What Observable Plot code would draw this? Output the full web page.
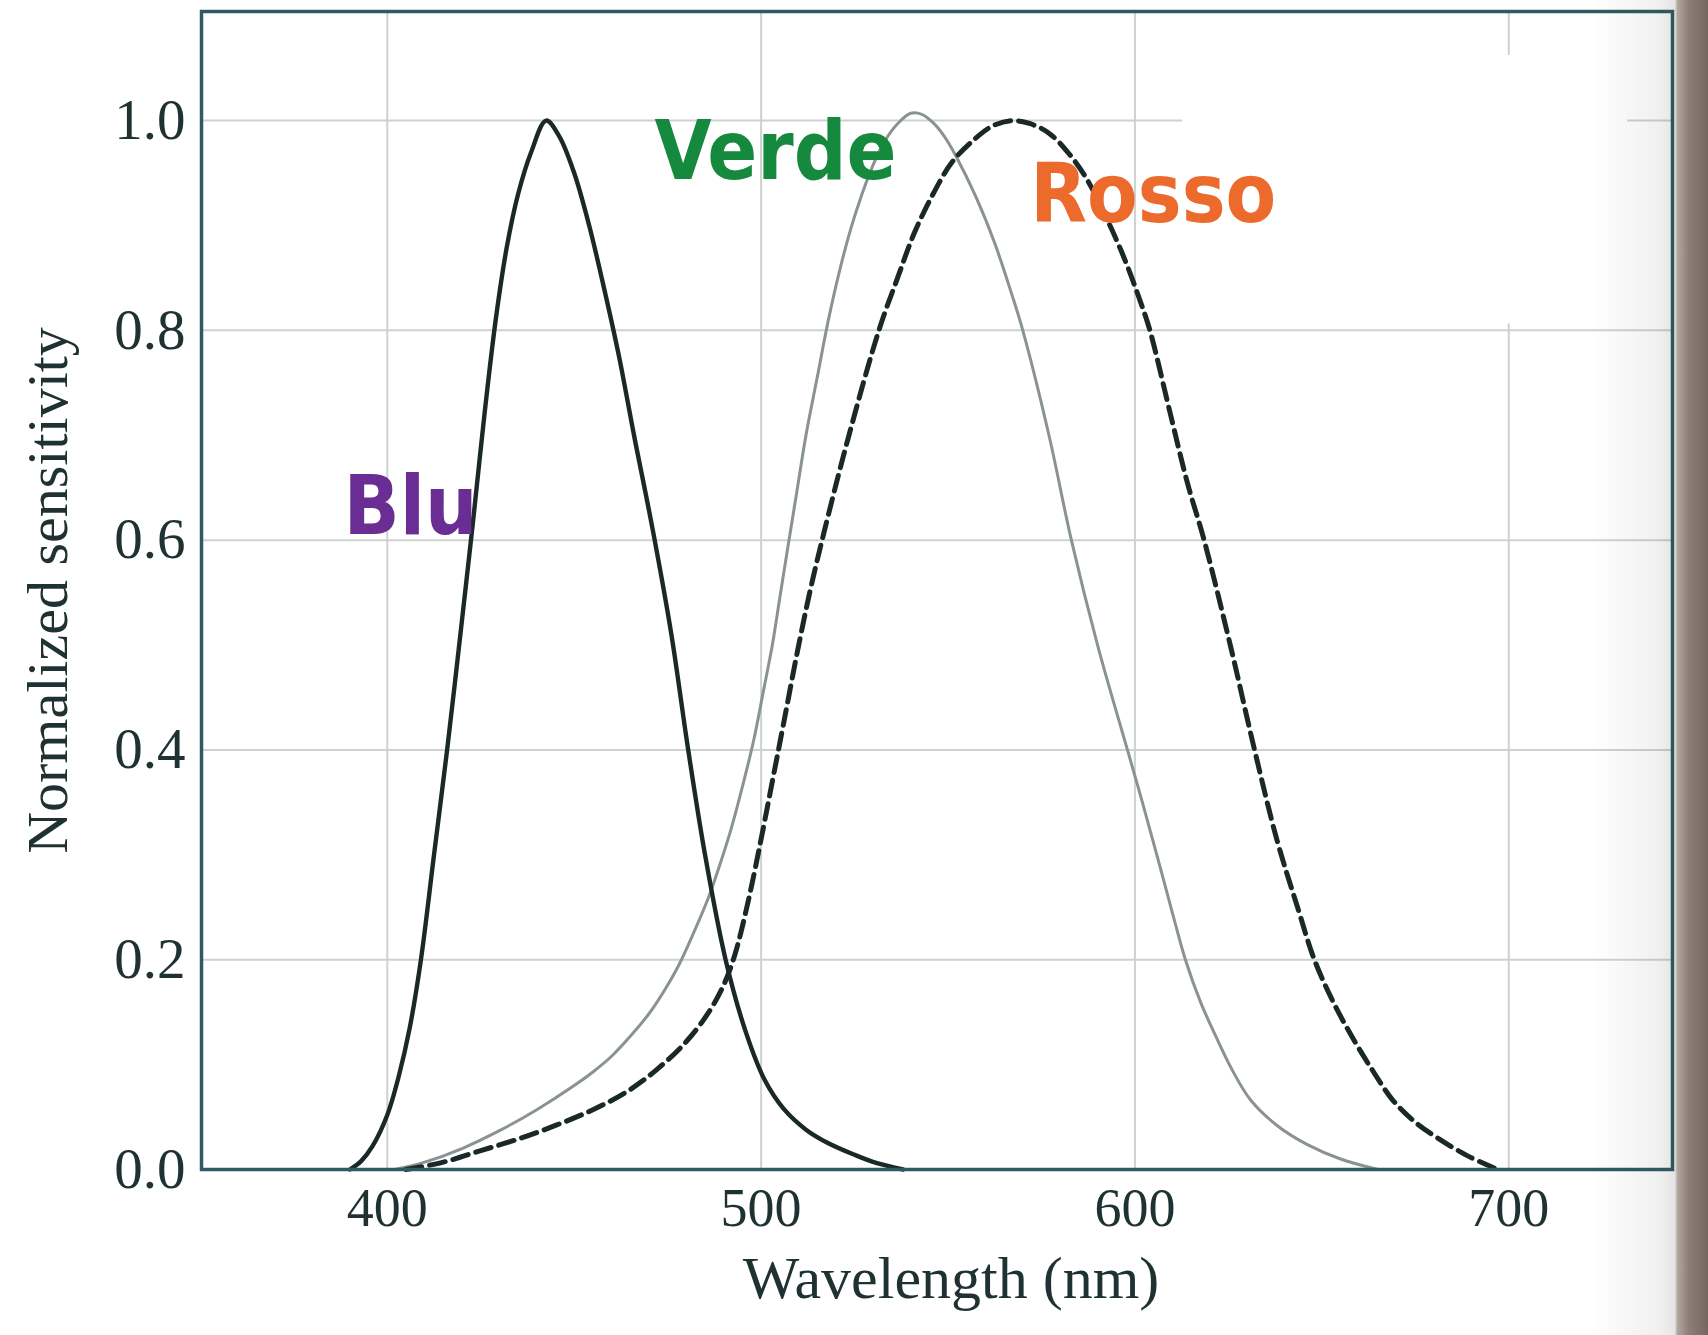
<!DOCTYPE html>
<html>
<head>
<meta charset="utf-8">
<script src="https://cdn.jsdelivr.net/npm/d3@7"></script>
<script src="https://cdn.jsdelivr.net/npm/@observablehq/plot@0.6"></script>
<style>
  html, body { margin: 0; padding: 0; background: #ffffff; }
  #wrap { position: relative; width: 1708px; height: 1335px; overflow: hidden; background: #ffffff; }
  #wrap svg { display: block; }
  #shade {
    position: absolute; left: 1590px; top: 0; width: 118px; height: 1335px; pointer-events: none;
    background: linear-gradient(to right,
      rgba(60,50,45,0) 0%,
      rgba(60,50,45,0.07) 58%,
      rgba(60,50,45,0.13) 72%,
      #b2a79f 74%,
      #8c7e76 84%,
      #75675f 100%);
  }
</style>
</head>
<body>
<div id="wrap"><div id="shade"></div></div>
<script>
// ---- data ----
const wavelengthTicks = [400, 500, 600, 700];
const sensitivityTicks = [0.0, 0.2, 0.4, 0.6, 0.8, 1.0];
const gridSensitivity = [0.2, 0.4, 0.6, 0.8, 1.0];
const xTitle = "Wavelength (nm)";
const yTitle = "Normalized sensitivity";

// [wavelength nm, normalized sensitivity]
const bluPoints = [
  [390, 0], [393, 0.008], [396, 0.022], [400, 0.052], [403, 0.088], [406, 0.135],
  [409, 0.2], [412.5, 0.3], [416, 0.4], [420.5, 0.54], [423, 0.62], [426, 0.72],
  [429, 0.81], [432, 0.88], [435, 0.93], [438.5, 0.97], [442.5, 1.0], [446, 0.985],
  [450, 0.95], [454, 0.9], [458, 0.84], [462, 0.775], [466, 0.7], [471, 0.61],
  [476, 0.51], [480.5, 0.4], [485, 0.3], [490.5, 0.2], [496, 0.13], [501, 0.085],
  [506, 0.058], [512, 0.038], [518, 0.025], [525, 0.014], [531, 0.006], [538, 0]
];
const verdePoints = [
  [402, 0], [410, 0.007], [420, 0.02], [430, 0.037], [440, 0.057], [450, 0.08],
  [455, 0.093], [460, 0.108], [465, 0.127], [470, 0.1485], [474, 0.17], [478, 0.195],
  [482, 0.226], [486, 0.26], [489, 0.291], [492, 0.325], [495, 0.365], [498, 0.409],
  [500.5, 0.454], [503, 0.5], [505, 0.545], [507, 0.59], [509.5, 0.645], [512, 0.7],
  [515, 0.755], [518, 0.81], [521, 0.857], [524, 0.897], [527, 0.93], [530, 0.958],
  [533, 0.98], [536.5, 0.997], [540, 1.007], [543, 1.006], [546, 0.998], [549, 0.985],
  [552, 0.967], [557.5, 0.927], [562.5, 0.883], [567, 0.835], [570, 0.8], [577, 0.7],
  [583, 0.6], [590, 0.5], [598, 0.4], [602, 0.35], [606, 0.298], [610, 0.245],
  [613.5, 0.2], [617.5, 0.16], [621.5, 0.128], [626, 0.095], [631, 0.066], [638, 0.042],
  [646, 0.024], [655, 0.01], [665, 0]
];
const rossoPoints = [
  [405, 0], [415, 0.007], [425, 0.018], [435, 0.029], [445, 0.042], [455, 0.057],
  [464, 0.074], [472, 0.095], [480, 0.122], [486, 0.15], [490, 0.176], [493, 0.205],
  [496.5, 0.255], [500, 0.315], [503, 0.37], [506, 0.425], [509.5, 0.49], [513, 0.55],
  [517, 0.61], [523.5, 0.7], [531.5, 0.8], [536.5, 0.85], [541, 0.893], [546, 0.93],
  [551, 0.96], [557, 0.982], [562, 0.995], [567, 1.0], [572, 0.997], [577, 0.988],
  [582, 0.97], [587, 0.945], [592, 0.91], [597, 0.87], [601.5, 0.827], [604, 0.8],
  [609.5, 0.72], [614, 0.655], [618.5, 0.6], [625.5, 0.5], [632, 0.4], [638, 0.314],
  [643.5, 0.25], [648, 0.2], [653, 0.16], [658, 0.127], [664, 0.092], [669, 0.066],
  [675, 0.045], [681, 0.03], [689, 0.013], [697, 0]
];

// curve names and where they are written (data coordinates)
const curveNames = ["Blu", "Verde", "Rosso"];
const labelWavelength = [388.3, 471.5, 572.0];
const labelSensitivity = [0.606, 0.944, 0.903];

// white patch covering the old legend area (data coordinates)
const patchWavelength = [612.7, 731.8];
const patchSensitivity = [0.806, 1.062];

// ---- styles ----
const labelColors = ["#6a2d93", "#15893d", "#ec6a2b"];
const inkColor = "#1a2828";
const greyCurve = "#8a9392";
const frameColor = "#2d5b61";
const gridColor = "#cdd2d1";
const textColor = "#1f3131";

const toRows = pts => pts.map(([nm, v]) => ({nm, v}));
const labels = curveNames.map((name, i) => ({name, nm: labelWavelength[i], v: labelSensitivity[i]}));
const patch = [{x1: patchWavelength[0], x2: patchWavelength[1], y1: patchSensitivity[0], y2: patchSensitivity[1]}];

const chart = Plot.plot({
  width: 1708,
  height: 1335,
  marginLeft: 201,
  marginRight: 36,
  marginTop: 11,
  marginBottom: 166,
  style: {fontFamily: "'Liberation Serif', 'Times New Roman', serif", color: textColor, background: "transparent"},
  x: {domain: [350.3, 743.8]},
  y: {domain: [0, 1.104]},
  marks: [
    Plot.gridX(wavelengthTicks, {stroke: gridColor, strokeOpacity: 1, strokeWidth: 2}),
    Plot.gridY(gridSensitivity, {stroke: gridColor, strokeOpacity: 1, strokeWidth: 2}),
    Plot.rect(patch, {x1: "x1", x2: "x2", y1: "y1", y2: "y2", fill: "#ffffff"}),
    Plot.axisX(wavelengthTicks, {tickSize: 0, tickPadding: 18, fontSize: 54, label: null, tickFormat: d => String(d)}),
    Plot.text([xTitle], {frameAnchor: "bottom", textAnchor: "middle", lineAnchor: "top", dy: 86, dx: 14, fontSize: 60, fill: textColor}),
    Plot.axisY(sensitivityTicks, {tickSize: 0, tickPadding: 16, fontSize: 57, label: null, tickFormat: d3.format(".1f")}),
    Plot.axisY([], {label: yTitle, labelAnchor: "center", labelOffset: 176, labelArrow: "none", fontSize: 58, tickSize: 0}),
    Plot.line(toRows(verdePoints), {x: "nm", y: "v", stroke: greyCurve, strokeWidth: 3, curve: "catmull-rom"}),
    Plot.line(toRows(rossoPoints), {x: "nm", y: "v", stroke: inkColor, strokeWidth: 5, strokeDasharray: "16 8", curve: "catmull-rom"}),
    Plot.line(toRows(bluPoints), {x: "nm", y: "v", stroke: inkColor, strokeWidth: 4.4, curve: "catmull-rom"}),
    Plot.frame({stroke: frameColor, strokeWidth: 3.5}),
    ...labels.map((d, i) => Plot.text([d], {
      x: "nm", y: "v", text: "name", fill: labelColors[i],
      textAnchor: "start", lineAnchor: "bottom", fontSize: 82, fontWeight: "bold",
      fontFamily: "'DejaVu Sans Condensed', 'DejaVu Sans', sans-serif"
    }))
  ]
});
document.getElementById("wrap").prepend(chart);
</script>
</body>
</html>
